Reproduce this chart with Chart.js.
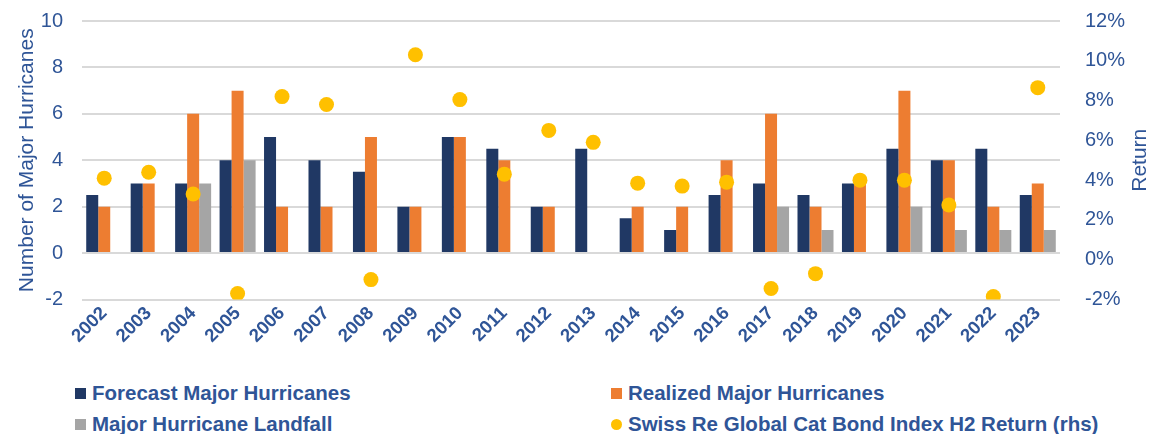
<!DOCTYPE html>
<html>
<head>
<meta charset="utf-8">
<script src="https://cdn.jsdelivr.net/npm/chart.js@4.4.1/dist/chart.umd.min.js"></script>
<style>
  html, body { margin: 0; padding: 0; background: #fff; overflow: hidden; }
  #wrap { position: relative; width: 1162px; height: 434px; overflow: hidden; font-family: "Liberation Sans", Arial, sans-serif; }
  #box { position: absolute; left: 0; top: -10px; width: 1162px; height: 360px; }
  #legend { position: absolute; left: 0; top: 381px; width: 1162px; }
  .item { position: absolute; display: flex; align-items: center; font-weight: bold; font-size: 20.5px; color: #2F5597; white-space: nowrap; }
  .mark { width: 11px; height: 11px; margin-right: 6px; }
  .mark.dot { border-radius: 50%; }
</style>
</head>
<body>
<div id="wrap">
  <div id="box"><canvas id="chart"></canvas></div>
  <div id="legend"></div>
</div>
<script>
// chart data
const years = ['2002', '2003', '2004', '2005', '2006', '2007', '2008', '2009', '2010', '2011', '2012',
               '2013', '2014', '2015', '2016', '2017', '2018', '2019', '2020', '2021', '2022', '2023'];
const forecast = [2.5, 3, 3, 4, 5, 4, 3.5, 2, 5, 4.5, 2, 4.5, 1.5, 1, 2.5, 3, 2.5, 3, 4.5, 4, 4.5, 2.5];
const realized = [2, 3, 6, 7, 2, 2, 5, 2, 5, 4, 2, 0, 2, 2, 4, 6, 2, 3, 7, 4, 2, 3];
const landfall = [0, 0, 3, 4, 0, 0, 0, 0, 0, 0, 0, 0, 0, 0, 0, 2, 1, 0, 2, 1, 1, 1];
const catBondReturn = [4.1, 4.4, 3.3, -1.7, 8.2, 7.8, -1.0, 10.3, 8.05, 4.3, 6.5,
                       5.9, 3.85, 3.7, 3.9, -1.45, -0.7, 4.0, 4.0, 2.75, -1.85, 8.65];
const leftTicks = { min: -2, max: 10, step: 2 };
const rightTicks = { min: -2, max: 12, step: 2 };

const textColor = '#2F5597';
const fontFam = '"Liberation Sans", Arial, sans-serif';

// "Return" title reads bottom-to-top, chart.js would rotate it the other way
const rightTitle = {
    id: 'rightTitle',
    afterDraw(chart) {
        const ctx = chart.ctx;
        ctx.save();
        ctx.translate(1140, (chart.chartArea.top + chart.chartArea.bottom) / 2);
        ctx.rotate(-Math.PI / 2);
        ctx.fillStyle = textColor;
        ctx.font = '21px ' + fontFam;
        ctx.textAlign = 'center';
        ctx.textBaseline = 'middle';
        ctx.fillText('Return', 0, 0);
        ctx.restore();
    }
};

const chart = new Chart(document.getElementById('chart'), {
    type: 'bar',
    data: {
        labels: years,
        datasets: [
            {
                type: 'line',
                label: 'Swiss Re Global Cat Bond Index H2 Return (rhs)',
                data: catBondReturn,
                yAxisID: 'y1',
                showLine: false,
                pointRadius: 7.5,
                pointHoverRadius: 7.5,
                pointBackgroundColor: '#FFC000',
                pointBorderWidth: 0,
                backgroundColor: '#FFC000',
                order: 0
            },
            { label: 'Forecast Major Hurricanes', data: forecast, backgroundColor: '#203864', order: 1 },
            { label: 'Realized Major Hurricanes', data: realized, backgroundColor: '#ED7D31', order: 1 },
            { label: 'Major Hurricane Landfall', data: landfall, backgroundColor: '#A5A5A5', order: 1 }
        ]
    },
    options: {
        responsive: true,
        maintainAspectRatio: false,
        animation: false,
        layout: { padding: { top: 5, left: 0, right: 0, bottom: 0 } },
        datasets: {
            bar: { categoryPercentage: 0.81, barPercentage: 1.0 }
        },
        plugins: {
            legend: { display: false },
            tooltip: { enabled: false }
        },
        scales: {
            x: {
                grid: { display: false },
                border: { display: false },
                ticks: {
                    autoSkip: false,
                    minRotation: 45,
                    maxRotation: 45,
                    padding: -5,
                    color: textColor,
                    font: { family: fontFam, size: 18.5, weight: 'bold' }
                },
                afterFit(scale) { scale.height = 50.5; }
            },
            y: {
                position: 'left',
                min: leftTicks.min,
                max: leftTicks.max,
                grid: { color: '#D9D9D9', lineWidth: 2, drawTicks: false },
                border: { display: false },
                ticks: {
                    stepSize: leftTicks.step,
                    padding: 19,
                    color: textColor,
                    font: { family: fontFam, size: 20 }
                },
                title: {
                    display: true,
                    text: 'Number of Major Hurricanes',
                    color: textColor,
                    font: { family: fontFam, size: 21 },
                    padding: { top: 15, bottom: 0 }
                },
                afterFit(scale) { scale.width = 82; }
            },
            y1: {
                position: 'right',
                min: rightTicks.min,
                max: rightTicks.max,
                grid: { display: false },
                border: { display: false },
                ticks: {
                    stepSize: rightTicks.step,
                    padding: 17,
                    color: textColor,
                    font: { family: fontFam, size: 20 },
                    callback: v => v + '%'
                },
                afterFit(scale) { scale.width = 102; }
            }
        }
    },
    plugins: [rightTitle]
});

// legend in two columns, like the original
const legendPos = {
    'Forecast Major Hurricanes': [75, 0],
    'Realized Major Hurricanes': [611, 0],
    'Major Hurricane Landfall': [75, 31],
    'Swiss Re Global Cat Bond Index H2 Return (rhs)': [611, 31]
};
const legend = document.getElementById('legend');
chart.data.datasets.forEach(ds => {
    const pos = legendPos[ds.label];
    const item = document.createElement('div');
    item.className = 'item';
    item.style.left = pos[0] + 'px';
    item.style.top = pos[1] + 'px';
    const mark = document.createElement('span');
    mark.className = ds.type === 'line' ? 'mark dot' : 'mark';
    mark.style.background = ds.backgroundColor;
    const txt = document.createElement('span');
    txt.textContent = ds.label;
    item.appendChild(mark);
    item.appendChild(txt);
    legend.appendChild(item);
});
</script>
</body>
</html>
